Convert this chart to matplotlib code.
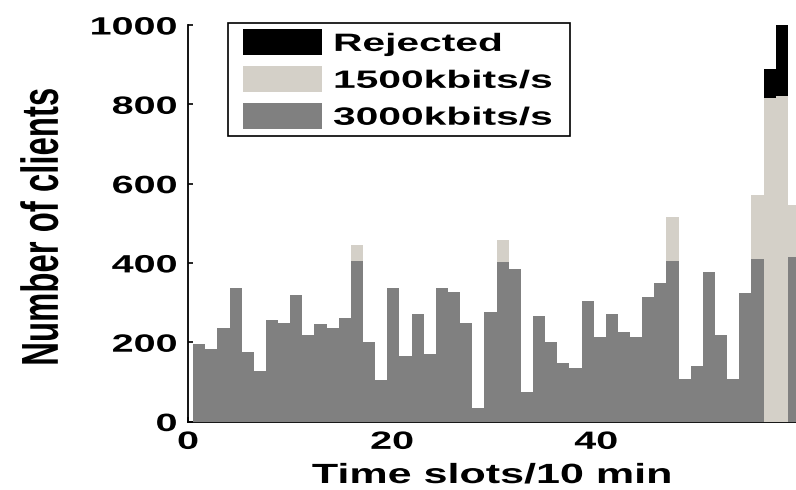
import numpy as np
import matplotlib
matplotlib.use("Agg")
import matplotlib.pyplot as plt
from matplotlib.patches import Patch
from matplotlib.legend_handler import HandlerPatch
from matplotlib.patheffects import AbstractPathEffect
from matplotlib.transforms import Affine2D

# Clients per 10-minute slot, split by the bitrate they were served at
slots = np.arange(50)
served_3000 = [196, 182, 237, 337, 176, 128, 255, 248, 319, 218,
               247, 235, 262, 404, 200, 105, 337, 165, 271, 170,
               337, 326, 248, 33, 277, 403, 385, 75, 265, 200,
               147, 136, 303, 213, 271, 225, 213, 314, 349, 404,
               107, 140, 378, 218, 107, 325, 410, 0, 0, 415]
served_1500 = [0, 0, 0, 0, 0, 0, 0, 0, 0, 0,
               0, 0, 0, 42, 0, 0, 0, 0, 0, 0,
               0, 0, 0, 0, 0, 54, 0, 0, 0, 0,
               0, 0, 0, 0, 0, 0, 0, 0, 0, 113,
               0, 0, 0, 0, 0, 0, 160, 816, 822, 130]
rejected = [0] * 47 + [72, 178, 0]

series_labels = ["3000kbits/s", "1500kbits/s", "Rejected"]
x_ticks = [0, 20, 40]
y_ticks = [0, 200, 400, 600, 800, 1000]

DARK = "#808080"
LIGHT = "#d4d0c8"
BLACK = "#000000"

plt.rcParams["font.family"] = ["Liberation Sans", "DejaVu Sans"]
plt.rcParams["font.weight"] = "bold"


class Widen(AbstractPathEffect):
    """Draw text glyphs widened along one of their own axes."""

    def __init__(self, factor, axis="x", anchor="center"):
        super().__init__()
        self._factor = factor
        self._axis = axis
        self._anchor = anchor

    def draw_path(self, renderer, gc, tpath, affine, rgbFace=None):
        ext = tpath.get_extents()
        if self._axis == "x":
            if self._anchor == "left":
                ref = 0.0
            elif self._anchor == "right":
                ref = ext.x1
            else:
                ref = 0.5 * (ext.x0 + ext.x1)
            widen = Affine2D().translate(-ref, 0).scale(self._factor, 1).translate(ref, 0)
        else:
            ref = 0.5 * (ext.y0 + ext.y1)
            widen = Affine2D().translate(0, -ref).scale(1, self._factor).translate(0, ref)
        renderer.draw_path(gc, tpath, widen + affine, rgbFace)


W, H = 796, 490
fig = plt.figure(figsize=(W / 100, H / 100), dpi=100)
ax_left, ax_right, ax_top, ax_bottom = 188, 800, 25, 421.5
ax = fig.add_axes([ax_left / W, (H - ax_bottom) / H,
                   (ax_right - ax_left) / W, (ax_bottom - ax_top) / H])

x_max = 60
slot_width = (x_max - 0.5) / len(slots)
left = 0.5 + slots * slot_width

bottom_1500 = np.asarray(served_3000)
bottom_rej = bottom_1500 + np.asarray(served_1500)
ax.bar(left, served_3000, width=slot_width, align="edge", color=DARK,
       linewidth=0, zorder=3)
ax.bar(left, served_1500, bottom=bottom_1500, width=slot_width, align="edge",
       color=LIGHT, linewidth=0, zorder=3)
ax.bar(left, rejected, bottom=bottom_rej, width=slot_width, align="edge",
       color=BLACK, linewidth=0, zorder=3)

ax.set_xlim(0, x_max)
ax.set_ylim(0, 1000)
ax.set_xticks(x_ticks, [str(v) for v in x_ticks])
ax.set_yticks(y_ticks, [str(v) for v in y_ticks])

for side in ("top", "right"):
    ax.spines[side].set_visible(False)
for side in ("left", "bottom"):
    ax.spines[side].set_linewidth(1.3)

ax.tick_params(axis="both", direction="in", length=3.8, width=1.2,
               labelsize=18, colors="black")
ax.tick_params(axis="y", pad=8)
ax.tick_params(axis="x", pad=6)

for lab in ax.get_yticklabels():
    lab.set_path_effects([Widen(1.58, anchor="right")])
for lab in ax.get_xticklabels():
    lab.set_path_effects([Widen(1.58)])

ax.set_xlabel("Time slots/10 min", fontsize=20, fontweight="bold")
ax.xaxis.label.set_verticalalignment("baseline")
ax.xaxis.set_label_coords((491.5 - ax_left) / (ax_right - ax_left),
                          (ax_bottom - 483) / (ax_bottom - ax_top))
ax.xaxis.label.set_path_effects([Widen(1.55)])

ax.set_ylabel("Number of clients", fontsize=23.7, fontweight="bold")
ax.yaxis.label.set_verticalalignment("center")
ax.yaxis.set_label_coords((42.5 - ax_left) / (ax_right - ax_left),
                          (ax_bottom - 227) / (ax_bottom - ax_top))
ax.yaxis.label.set_path_effects([Widen(1.58, axis="y")])

handles = [Patch(facecolor=BLACK, linewidth=0),
           Patch(facecolor=LIGHT, linewidth=0),
           Patch(facecolor=DARK, linewidth=0)]
leg_x0, leg_x1, leg_top = 228, 570, 23
leg = ax.legend(handles, series_labels[::-1], loc="upper left",
                bbox_to_anchor=((leg_x0 - ax_left) / (ax_right - ax_left), 0.3,
                                (leg_x1 - leg_x0) / (ax_right - ax_left),
                                (ax_bottom - leg_top) / (ax_bottom - ax_top) - 0.3),
                mode="expand", borderaxespad=0, borderpad=0.26,
                labelspacing=0.42, handlelength=3.5, handleheight=1.22,
                handletextpad=0.44, fontsize=18, fancybox=False,
                framealpha=1, edgecolor="black",
                handler_map={Patch: HandlerPatch(xpad=0.34)})
leg.get_frame().set_linewidth(1.2)
for t in leg.get_texts():
    t.set_path_effects([Widen(1.63, anchor="left")])

fig.savefig("out.png", dpi=100)
